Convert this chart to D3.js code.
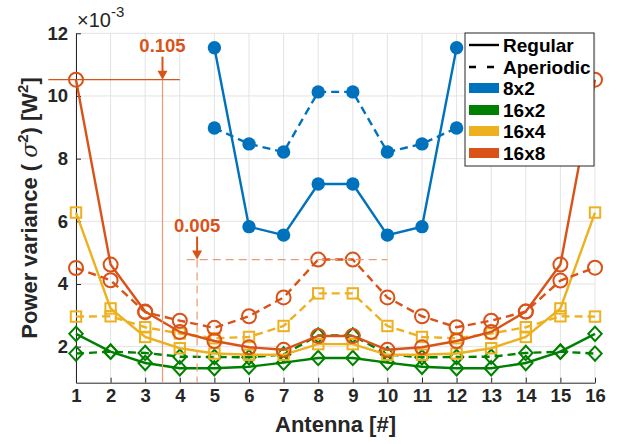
<!DOCTYPE html>
<html><head><meta charset="utf-8">
<script src="https://cdn.jsdelivr.net/npm/d3@7/dist/d3.min.js"></script>
<style>body{margin:0;background:#fff;}svg{display:block;font-family:"Liberation Sans",Arial,sans-serif;}</style>
</head><body><svg id="c" width="620" height="444"></svg>
<script>
// Antenna index
const antennas = [1,2,3,4,5,6,7,8,9,10,11,12,13,14,15,16];
// Values in units of 1e-3 W^2 (null = not plotted)
const reg8x2  = [null,null,null,null,11.54,5.83,5.56,7.19,7.19,5.56,5.83,11.54,null,null,null,null];
const ape8x2  = [null,null,null,null,8.98,8.47,8.21,10.13,10.13,8.21,8.47,8.98,null,null,null,null];
const reg16x2 = [2.41,1.84,1.48,1.31,1.31,1.36,1.49,1.64,1.64,1.49,1.36,1.31,1.31,1.48,1.84,2.41];
const ape16x2 = [1.78,1.84,1.80,1.68,1.67,1.66,1.75,2.36,2.36,1.75,1.66,1.67,1.68,1.80,1.84,1.78];
const reg16x4 = [6.28,3.22,2.31,1.95,1.78,1.74,1.74,2.08,2.08,1.74,1.74,1.78,1.95,2.31,3.22,6.28];
const ape16x4 = [2.96,2.97,2.62,2.42,2.27,2.31,2.66,3.70,3.70,2.66,2.31,2.27,2.42,2.62,2.97,2.96];
const reg16x8 = [10.52,4.62,3.12,2.47,2.18,1.98,1.90,2.34,2.34,1.90,1.98,2.18,2.47,3.12,4.62,10.52];
const ape16x8 = [4.51,4.12,3.10,2.83,2.60,2.97,3.57,4.78,4.78,3.57,2.97,2.62,2.83,3.12,4.11,4.52];
const yTicks = [2,4,6,8,10,12];
const legendLabels = ["Regular","Aperiodic","8x2","16x2","16x4","16x8"];

const C = {blue:"#0072BD", green:"#008000", yellow:"#EDB120", orange:"#D95319"};
const svg = d3.select("#c");
const x = d3.scaleLinear().domain([1,16]).range([76,595]);
const y = d3.scaleLinear().domain([0.85,12]).range([382.7,33.3]);

// grid
const g = svg.append("g");
g.selectAll(".vg").data(antennas).enter().append("line")
  .attr("x1",d=>x(d)).attr("x2",d=>x(d)).attr("y1",y(0.85)).attr("y2",y(12))
  .attr("stroke","#e3e3e3").attr("stroke-width",1);
g.selectAll(".hg").data(yTicks).enter().append("line")
  .attr("x1",x(1)).attr("x2",x(16)).attr("y1",d=>y(d)).attr("y2",d=>y(d))
  .attr("stroke","#e3e3e3").attr("stroke-width",1);

// axes
const xAxis = d3.axisBottom(x).tickValues(antennas).tickSizeInner(-5).tickSizeOuter(0).tickPadding(6);
const yAxis = d3.axisLeft(y).tickValues(yTicks).tickSizeInner(-5).tickSizeOuter(0).tickPadding(8);
const ax = svg.append("g").attr("transform",`translate(0,${y(0.85)})`).call(xAxis);
const ay = svg.append("g").attr("transform",`translate(${x(1)},0)`).call(yAxis);
[ax,ay].forEach(a=>{
  a.select(".domain").attr("stroke","#262626").attr("stroke-width",1);
  a.selectAll(".tick line").attr("stroke","#262626");
  a.selectAll("text").attr("fill","#262626").attr("font-size",18.5).attr("font-weight","bold")
    .attr("font-family","'Liberation Sans',Arial,sans-serif");
});

// labels
svg.append("text").attr("x",(x(1)+x(16))/2).attr("y",432).attr("text-anchor","middle")
  .attr("font-size",22).attr("font-weight","bold").attr("fill","#262626").text("Antenna [#]");
const yl = svg.append("text").attr("transform",`translate(37,${(y(0.85)+y(12))/2}) rotate(-90)`)
  .attr("text-anchor","middle").attr("font-size",22).attr("font-weight","bold").attr("fill","#262626");
yl.append("tspan").text("Power variance ( ");
yl.append("tspan").attr("font-style","italic").attr("font-family","'DejaVu Serif',serif").attr("font-weight","normal").text("σ");
yl.append("tspan").attr("dy",-9).attr("font-size",15).text("2");
yl.append("tspan").attr("dy",9).text(") [W");
yl.append("tspan").attr("dy",-9).attr("font-size",15).text("2");
yl.append("tspan").attr("dy",9).text("]");
const ex = svg.append("text").attr("x",77).attr("y",27).attr("font-size",20).attr("fill","#262626");
ex.append("tspan").text("×10");
ex.append("tspan").attr("dy",-10).attr("font-size",15).text("-3");

// series
const line = d3.line().defined(d=>d.v!==null).x(d=>x(d.a)).y(d=>y(d.v));
function pts(arr){return arr.map((v,i)=>({a:antennas[i],v:v}));}
function drawSeries(arr,color,dashed,marker){
  const p = pts(arr);
  svg.append("path").datum(p).attr("d",line).attr("fill","none").attr("stroke",color)
    .attr("stroke-width",2.4).attr("stroke-dasharray",dashed?"8,5":null);
  const m = svg.append("g").selectAll("g").data(p.filter(d=>d.v!==null)).enter();
  if(marker==="dot"){
    m.append("circle").attr("cx",d=>x(d.a)).attr("cy",d=>y(d.v)).attr("r",6.7).attr("fill",color);
  } else if(marker==="circle"){
    m.append("circle").attr("cx",d=>x(d.a)).attr("cy",d=>y(d.v)).attr("r",7).attr("fill","none")
      .attr("stroke",color).attr("stroke-width",2);
  } else if(marker==="square"){
    m.append("rect").attr("x",d=>x(d.a)-5.2).attr("y",d=>y(d.v)-5.2).attr("width",10.4).attr("height",10.4)
      .attr("fill","none").attr("stroke",color).attr("stroke-width",2);
  } else if(marker==="diamond"){
    m.append("path").attr("d",d=>{const cx=x(d.a),cy=y(d.v);return `M${cx},${cy-7.2}L${cx+6.7},${cy}L${cx},${cy+7.2}L${cx-6.7},${cy}Z`;})
      .attr("fill","none").attr("stroke",color).attr("stroke-width",2);
  }
}
drawSeries(reg8x2,C.blue,false,"dot");
drawSeries(ape8x2,C.blue,true,"dot");
drawSeries(reg16x2,C.green,false,"diamond");
drawSeries(ape16x2,C.green,true,"diamond");
drawSeries(reg16x4,C.yellow,false,"square");
drawSeries(ape16x4,C.yellow,true,"square");
drawSeries(reg16x8,C.orange,false,"circle");
drawSeries(ape16x8,C.orange,true,"circle");

// annotations
const ann1 = {v:reg16x8[0], xv:3.5, x0:0.2, x1:4.0, label:"0.105"};
const ann2 = {v:ape16x8[7], xv:4.5, x0:4.2, x1:10.0, label:"0.005"};
svg.append("line").attr("x1",x(ann1.x0)).attr("x2",x(ann1.x1)).attr("y1",y(ann1.v)).attr("y2",y(ann1.v))
  .attr("stroke",C.orange).attr("stroke-width",1.2);
svg.append("line").attr("x1",x(ann1.xv)).attr("x2",x(ann1.xv)).attr("y1",y(ann1.v)).attr("y2",y(0.85))
  .attr("stroke","#eb9a78").attr("stroke-width",1.2);
svg.append("line").attr("x1",x(ann2.x0)).attr("x2",x(ann2.x1)).attr("y1",y(ann2.v)).attr("y2",y(ann2.v))
  .attr("stroke","#eb9a78").attr("stroke-width",1.2).attr("stroke-dasharray","8,5");
svg.append("line").attr("x1",x(ann2.xv)).attr("x2",x(ann2.xv)).attr("y1",y(ann2.v)).attr("y2",y(0.85))
  .attr("stroke","#eb9a78").attr("stroke-width",1.2).attr("stroke-dasharray","8,5");
[ann1,ann2].forEach(a=>{
  const ax_=x(a.xv), ay_=y(a.v);
  svg.append("line").attr("x1",ax_).attr("x2",ax_).attr("y1",ay_-23).attr("y2",ay_-6)
    .attr("stroke",C.orange).attr("stroke-width",2);
  svg.append("path").attr("d",`M${ax_-5},${ay_-9}L${ax_+5},${ay_-9}L${ax_},${ay_}Z`).attr("fill",C.orange);
  svg.append("text").attr("x",ax_).attr("y",ay_-28).attr("text-anchor","middle").attr("font-size",18.5)
    .attr("font-weight","bold").attr("fill",C.orange).text(a.label);
});

// legend
const L = svg.append("g").attr("transform","translate(465,33)");
L.append("rect").attr("width",129).attr("height",133).attr("fill","#fff").attr("stroke","#262626").attr("stroke-width",1);
const rowY = [12,34,55,77,98,120];
const legColors = [null,null,C.blue,C.green,C.yellow,C.orange];
legendLabels.forEach((lab,i)=>{
  const ry = rowY[i];
  if(i===0){
    L.append("line").attr("x1",4).attr("x2",34).attr("y1",ry).attr("y2",ry).attr("stroke","#000").attr("stroke-width",2.4);
  } else if(i===1){
    L.append("line").attr("x1",4).attr("x2",34).attr("y1",ry).attr("y2",ry).attr("stroke","#000").attr("stroke-width",2.4).attr("stroke-dasharray","7,11");
  } else {
    L.append("rect").attr("x",4).attr("y",ry-5).attr("width",30).attr("height",10).attr("fill",legColors[i]);
  }
  L.append("text").attr("x",38).attr("y",ry+7).attr("font-size",19).attr("font-weight","bold").attr("fill","#000").text(lab);
});
</script></body></html>
